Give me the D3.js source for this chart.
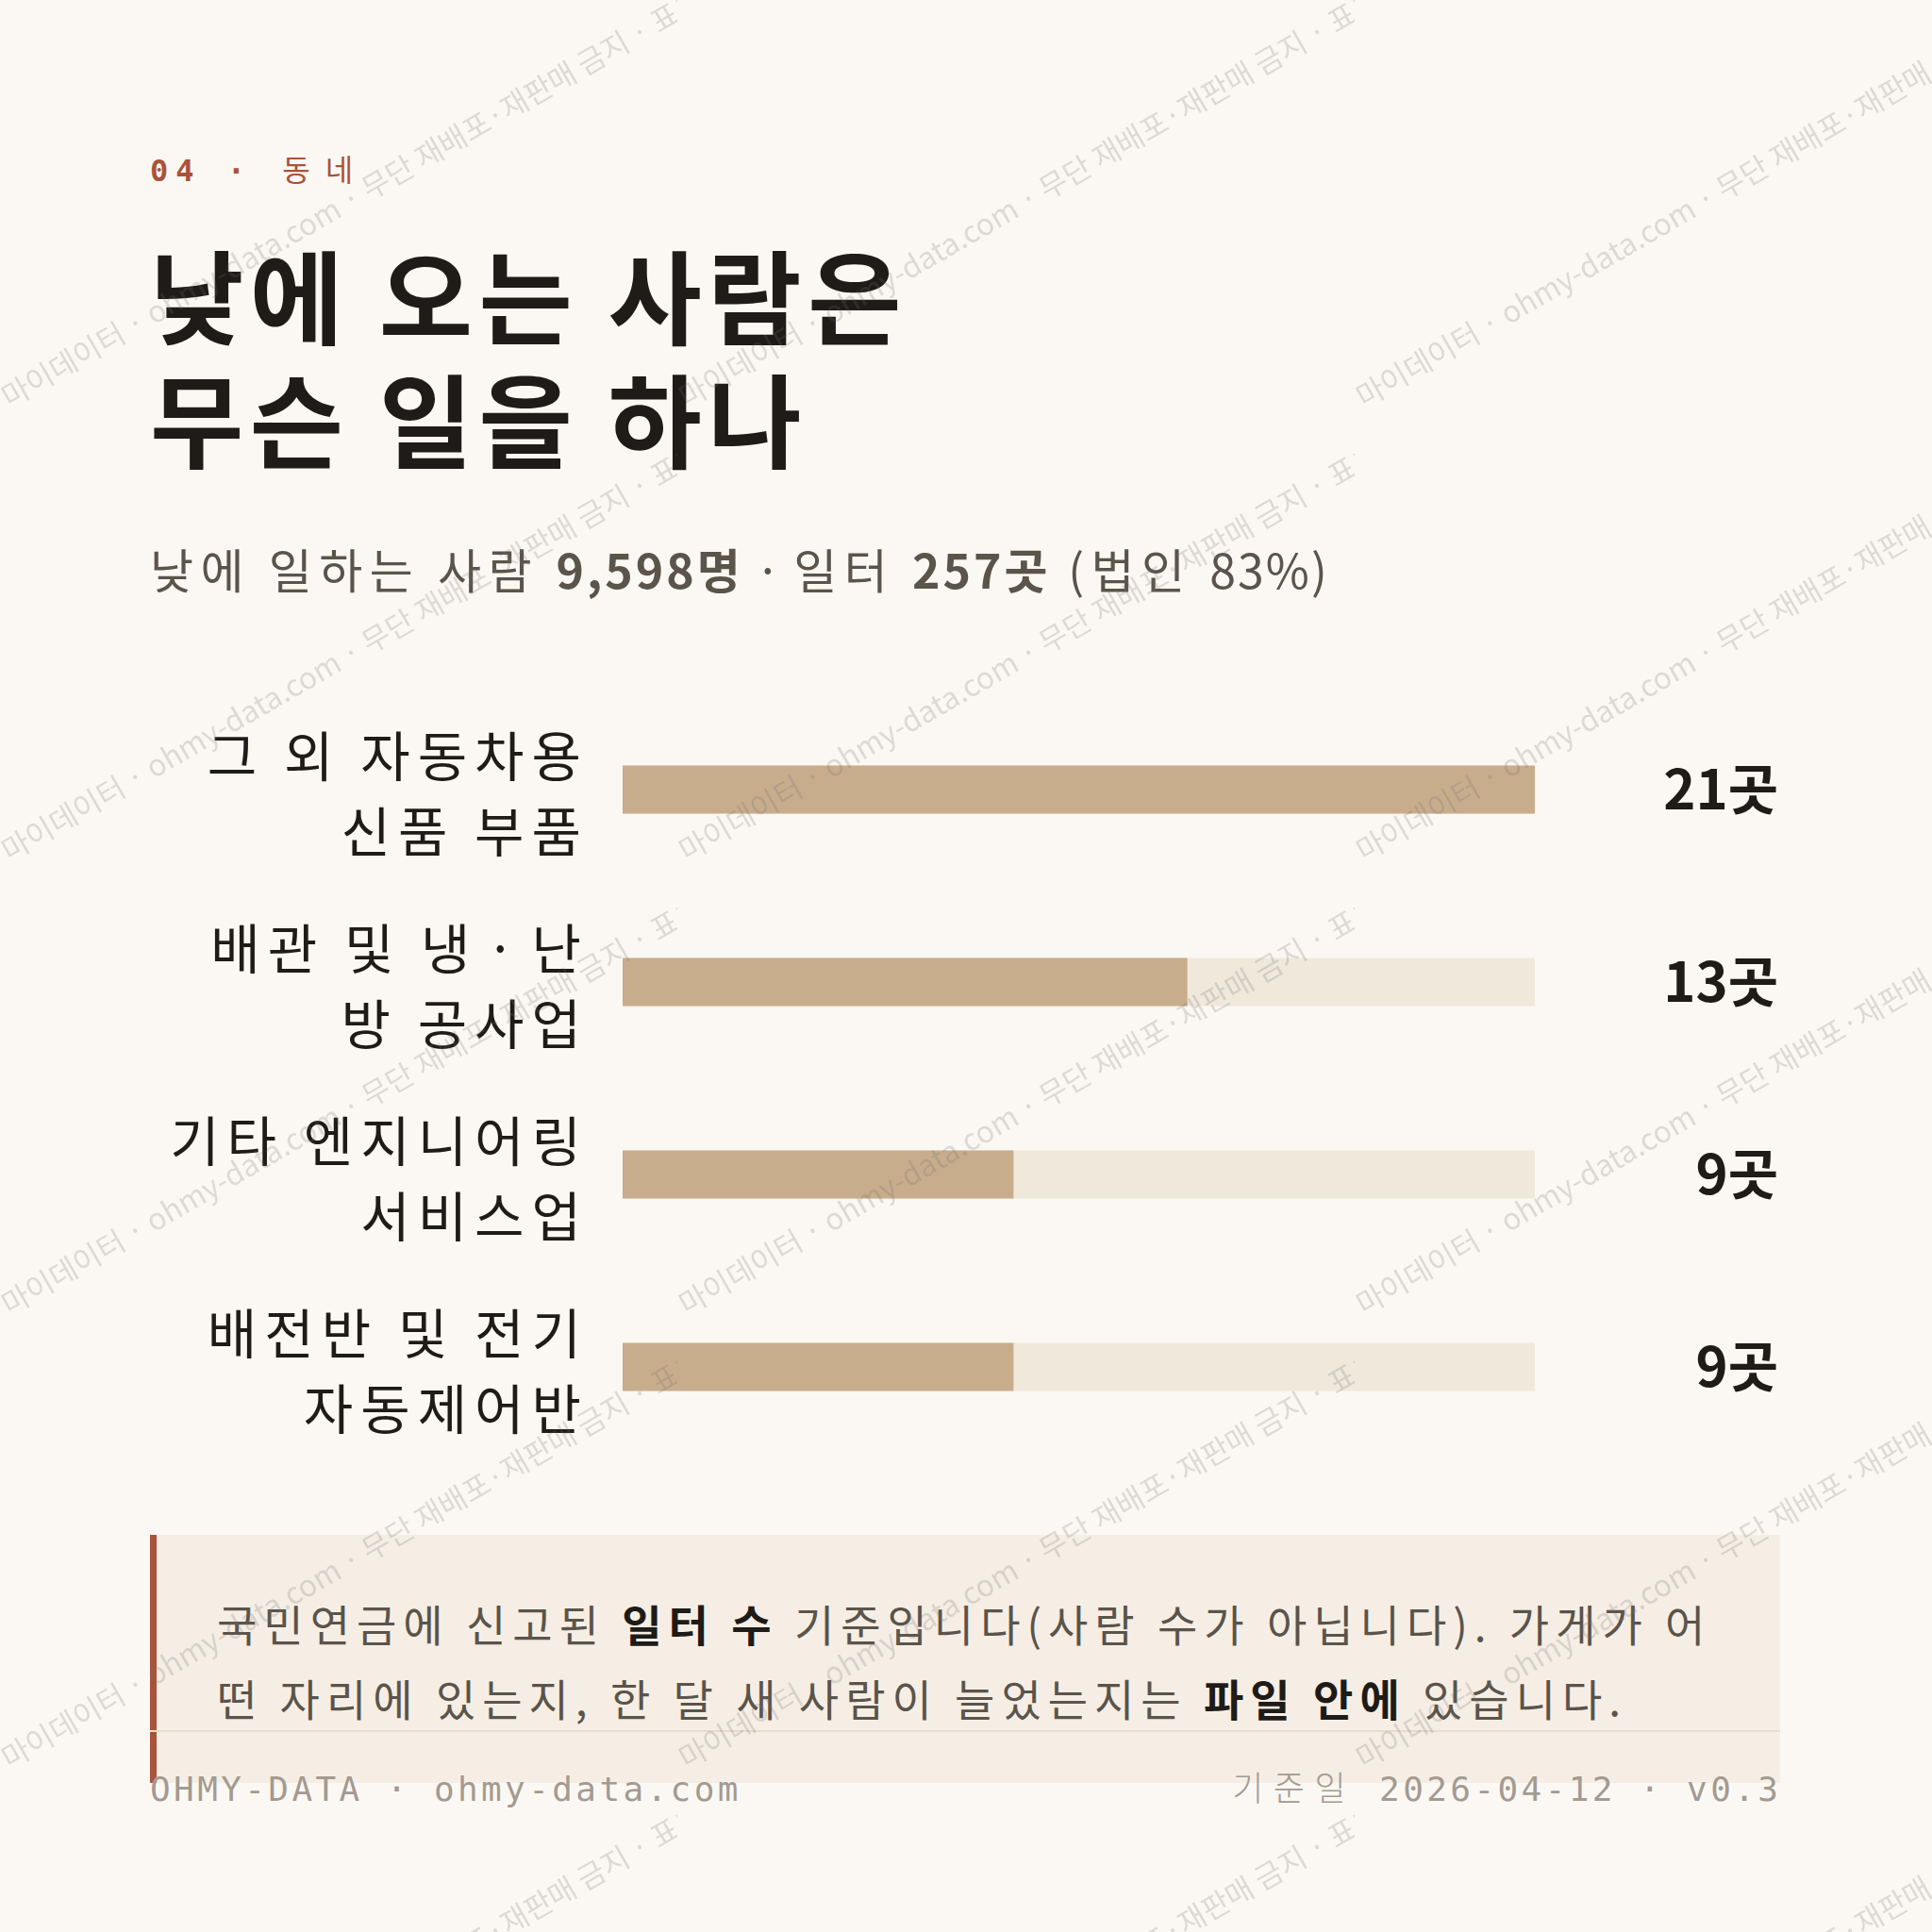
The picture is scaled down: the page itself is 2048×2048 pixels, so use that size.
<!DOCTYPE html>
<html>
<head>
<meta charset="utf-8">
<script src="https://cdn.jsdelivr.net/npm/d3@7"></script>
<style>
  html, body { margin: 0; padding: 0; background: #fbf8f3; }
  svg { display: block; }
</style>
</head>
<body>
<svg id="chart"></svg>
<script>
// data
var categories = [
  ["그 외 자동차용", "신품 부품"],
  ["배관 및 냉·난", "방 공사업"],
  ["기타 엔지니어링", "서비스업"],
  ["배전반 및 전기", "자동제어반"]
];
var counts = [21, 13, 9, 9];
var unit = "곳";
var kicker = ["04", "동네"];
var titleLines = ["낮에 오는 사람은", "무슨 일을 하나"];
var subtitle = [["낮에 일하는 사람 ", false], ["9,598명", true], [" · ", false], ["일터 ", false], ["257곳", true], [" (법인 ", false], ["83%)", false]];
var noteLines = [
  [["국민연금에 신고된 ", false], ["일터 수", true], [" 기준입니다(사람 수가 아닙니다). 가게가 어", false]],
  [["떤 자리에 있는지, 한 달 새 사람이 늘었는지는 ", false], ["파일 안에", true], [" 있습니다.", false]]
];
var footLeft = "OHMY-DATA · ohmy-data.com";
var footRight = ["기준일", " 2026-04-12 · v0.3"];
var watermark = "마이데이터 · ohmy-data.com · 무단 재배포·재판매 금지 · 표본";

var W = 2048, H = 2048;
var sans = "'Noto Sans CJK KR', 'Noto Sans', sans-serif";
var mono = "'DejaVu Sans Mono', 'Liberation Mono', monospace";

var svg = d3.select("#chart")
    .attr("width", W)
    .attr("height", H);

svg.append("rect").attr("width", W).attr("height", H).attr("fill", "#fbf8f3");

// kicker
var k = svg.append("text")
  .attr("x", 159).attr("y", 192)
  .attr("font-size", 32)
  .attr("fill", "#a9533b");
k.append("tspan").attr("font-family", mono).attr("font-weight", 700)
  .attr("letter-spacing", 8).text(kicker[0] + " · ");
k.append("tspan").attr("font-family", sans).attr("letter-spacing", 16)
  .attr("dx", 4).text(" " + kicker[1]);

// title
svg.append("g").selectAll("text")
  .data(titleLines)
  .join("text")
    .attr("x", 159)
    .attr("y", function(d, i) { return 357 + i * 131; })
    .attr("font-family", sans)
    .attr("font-weight", 700)
    .attr("font-size", 108)
    .attr("letter-spacing", 6.5)
    .attr("fill", "#1e1b18")
    .text(function(d) { return d; });

// subtitle
var subLs = [7.5, 3, 1, 7.5, 3, 7.5, 2];
svg.append("text")
  .attr("x", 159).attr("y", 624)
  .attr("font-family", sans)
  .attr("font-size", 50)
  .attr("fill", "#5a544b")
  .selectAll("tspan")
  .data(subtitle)
  .join("tspan")
    .attr("font-weight", function(d) { return d[1] ? 700 : 400; })
    .attr("letter-spacing", function(d, i) { return subLs[i]; })
    .text(function(d) { return d[0]; });

// bars
var x = d3.scaleLinear()
  .domain([0, d3.max(counts)])
  .range([660, 1627]);

var y = d3.scaleBand()
  .domain(d3.range(counts.length))
  .range([735, 1551])
  .paddingInner(0);

var barH = 51;
var rows = svg.append("g").selectAll("g")
  .data(counts)
  .join("g")
    .attr("transform", function(d, i) { return "translate(0," + (y(i) + y.bandwidth() / 2) + ")"; });

rows.append("rect")
  .attr("x", x(0))
  .attr("y", -barH / 2)
  .attr("width", x.range()[1] - x(0))
  .attr("height", barH)
  .attr("fill", "#f1e8dc");

rows.append("rect")
  .attr("x", x(0))
  .attr("y", -barH / 2)
  .attr("width", function(d) { return x(d) - x(0); })
  .attr("height", barH)
  .attr("fill", "#c8ad8c");

rows.append("text")
  .attr("x", 1885)
  .attr("y", 21)
  .attr("text-anchor", "end")
  .attr("font-family", sans)
  .attr("font-weight", 700)
  .attr("font-size", 58)
  .attr("fill", "#1e1b18")
  .text(function(d) { return d + unit; });

// category labels, two lines, the middle dot gets extra room
var labLs = 8;
var labels = rows.append("g")
  .attr("font-family", sans)
  .attr("font-size", 57)
  .attr("letter-spacing", labLs)
  .attr("fill", "#1e1b18");

labels.selectAll("text")
  .data(function(d, i) { return categories[i]; })
  .join("text")
    .attr("text-anchor", "end")
    .attr("x", 616 + labLs)
    .attr("y", function(d, j) { return j === 0 ? -14 : 66; })
    .each(function(line) {
      var t = d3.select(this);
      line.split(/(·)/).forEach(function(part) {
        if (!part) return;
        var s = t.append("tspan").text(part);
        if (part === "·") s.attr("dx", 8).attr("letter-spacing", labLs + 9);
      });
    });

// note box
svg.append("rect")
  .attr("x", 159).attr("y", 1627)
  .attr("width", 1728).attr("height", 263)
  .attr("fill", "#f6eee4");
svg.append("rect")
  .attr("x", 159).attr("y", 1627)
  .attr("width", 7).attr("height", 263)
  .attr("fill", "#a9533b");

svg.append("g").selectAll("text")
  .data(noteLines)
  .join("text")
    .attr("x", 230)
    .attr("y", function(d, i) { return 1740 + i * 79; })
    .attr("font-family", sans)
    .attr("font-size", 46)
    .attr("letter-spacing", 7)
    .attr("fill", "#5a544b")
  .selectAll("tspan")
  .data(function(d) { return d; })
  .join("tspan")
    .attr("font-weight", function(d) { return d[1] ? 700 : 400; })
    .attr("fill", function(d) { return d[1] ? "#1e1b18" : null; })
    .text(function(d) { return d[0]; });

svg.append("line")
  .attr("x1", 159).attr("x2", 1887)
  .attr("y1", 1835).attr("y2", 1835)
  .attr("stroke", "#e6dccd").attr("stroke-width", 2);

// footer
var footLs = 3.4;
svg.append("text")
  .attr("x", 159).attr("y", 1909)
  .attr("font-family", mono).attr("font-size", 36)
  .attr("letter-spacing", footLs)
  .attr("fill", "#a39a91")
  .text(footLeft);
var fr = svg.append("text")
  .attr("x", 1885 + footLs).attr("y", 1909)
  .attr("text-anchor", "end")
  .attr("font-size", 36)
  .attr("letter-spacing", footLs)
  .attr("fill", "#a39a91");
fr.append("tspan").attr("font-family", sans).attr("font-weight", 300)
  .attr("letter-spacing", 10.5).text(footRight[0]);
fr.append("tspan").attr("font-family", mono).text(footRight[1]);

// watermark
var defs = svg.append("defs");
var pat = defs.append("pattern")
  .attr("id", "wm")
  .attr("patternUnits", "userSpaceOnUse")
  .attr("width", 718).attr("height", 481);
pat.append("text")
  .attr("transform", "translate(10,433) rotate(-30)")
  .attr("font-family", sans)
  .attr("font-size", 31.5)
  .attr("fill", "rgba(110,110,110,0.22)")
  .text(watermark);
svg.append("rect").attr("width", W).attr("height", H).attr("fill", "url(#wm)");
</script>
</body>
</html>
